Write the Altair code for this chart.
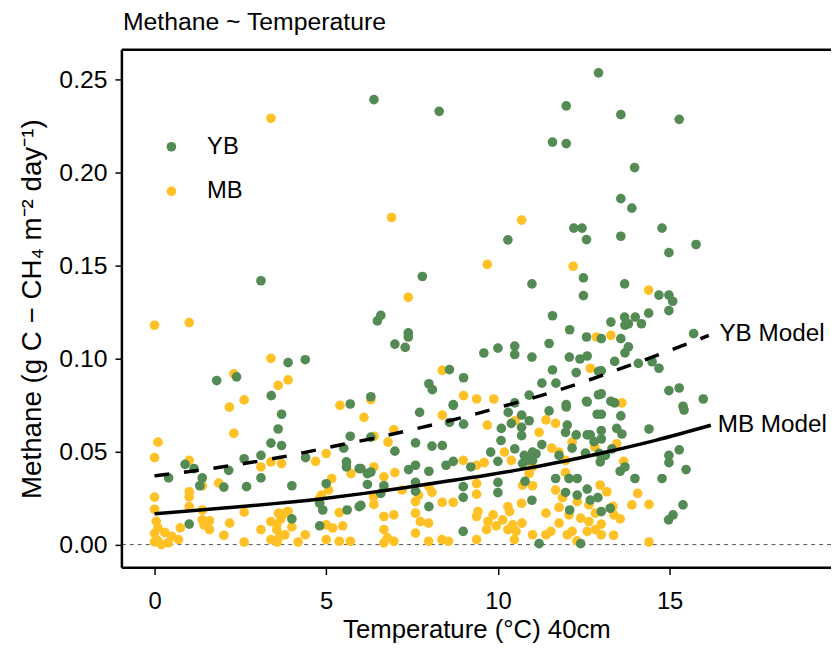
import altair as alt
import pandas as pd

# ---------------- data ----------------
mb_x = [3.39, 6.90, 10.69, 0.0, 1.01, 3.39, 2.31, 3.60, 3.89, 2.61, 2.18, 5.40, 9.69, 12.19, 7.39,
        12.87, 12.69, 8.38, 9.0, 9.38, 9.88, 6.30, 14.39, 13.29, 13.61,
        2.31, 0.10, 0.0, 3.39, 3.70, 1.01, 3.10, 4.69, 5.0, 5.72, 5.16, 5.07, 4.86, 1.87, 1.01, 1.01,
        1.01, 1.39, 0.0, 0.0, 1.39, 1.39, 1.6, 1.6, 1.44, 2.61, 2.19, 2.02, 0.70,
        0.05, 0.1, 0.3, 0.5, 0.1, 0.4, 0.75, 0.0, 0.2, 0.0,
        2.61, 3.10, 3.39, 3.39, 3.61, 3.68, 3.56, 3.56, 3.80, 3.65, 3.80, 3.89, 4.0, 4.18, 4.39, 3.57,
        4.81, 5.0, 5.19, 5.0, 5.38, 5.70, 5.48, 5.38,
        6.10, 8.38, 9.69, 10.5, 11.20, 11.4, 11.68, 6.97, 6.80, 6.39, 11.57, 11.78, 12.16, 10.19,
        10.39, 11.97, 12.82, 6.39, 6.68, 7.0, 6.38, 6.39, 7.21, 7.69, 7.6, 7.99, 8.08, 8.99, 9.38,
        9.6, 8.38, 8.70, 9.38, 9.38, 10.72, 11.01, 10.69, 10.29, 10.34,
        9.42, 9.38, 9.71, 9.86, 9.67, 9.95, 10.14, 10.29, 10.43, 10.53, 10.70, 10.48,
        11.01, 11.40, 11.54, 11.40, 11.78, 11.78, 12.07, 12.02, 12.16, 11.68, 11.88, 12.31, 12.65,
        12.41, 12.65, 12.84, 12.6, 12.3, 12.84, 10.91, 11.0, 11.97, 7.60, 7.98, 8.37, 8.56, 9.38,
        6.68, 6.97, 6.68, 6.78, 6.68, 6.97, 7.60, 7.74, 7.98,
        13.46, 13.66, 12.98, 13.17, 14.07, 13.9, 14.4, 13.35, 13.38, 13.56, 13.01, 13.01, 13.37, 14.40]
mb_y = [0.229, 0.1757, 0.1743, 0.1178, 0.1192, 0.100, 0.0917, 0.0855, 0.0885, 0.0777, 0.0738, 0.0748,
        0.1505, 0.1495, 0.1328, 0.1115, 0.0947, 0.0936, 0.080, 0.0782, 0.0782, 0.0779, 0.1367, 0.1124,
        0.0761,
        0.0598, 0.055, 0.0467, 0.0444, 0.0435, 0.0452, 0.0417, 0.0447, 0.0489, 0.0381, 0.0355, 0.0293,
        0.0266, 0.033, 0.0284, 0.0257, 0.0204, 0.0316, 0.0255, 0.019, 0.0186, 0.0133, 0.0128, 0.008,
        0.0106, 0.0174, 0.0115, 0.005, 0.0027,
        0.0125, 0.009, 0.0065, 0.0045, 0.002, 0.001, 0.009, 0.006, 0.0, 0.0015,
        0.0014, 0.008, 0.0027, 0.0124, 0.0169, 0.0138, 0.0106, 0.008, 0.0053, 0.0045, 0.0169, 0.0178,
        0.0095, 0.0014, 0.0053, 0.0014,
        0.0248, 0.0106, 0.0089, 0.0027, 0.0018, 0.0018, 0.0101, 0.0172,
        0.0683, 0.0695, 0.0642, 0.0665, 0.0603, 0.067, 0.0651, 0.0617, 0.055, 0.0582, 0.0518, 0.0497,
        0.055, 0.0497, 0.0452, 0.0452, 0.0525, 0.0417, 0.0364, 0.0387, 0.0257, 0.0216, 0.0293, 0.0266,
        0.0231, 0.0311, 0.028, 0.0452, 0.0426, 0.044, 0.0227, 0.0227, 0.0328, 0.0271, 0.0319, 0.0316,
        0.0222, 0.0204, 0.0178,
        0.0178, 0.0151, 0.0124, 0.016, 0.008, 0.0101, 0.0133, 0.008, 0.0106, 0.0071, 0.0115, 0.0027,
        0.0053, 0.0053, 0.0071, 0.0169, 0.020, 0.0115, 0.016, 0.0053, 0.0071, 0.0293, 0.0252, 0.0231,
        0.0213, 0.0142, 0.0124, 0.008, 0.0071, 0.002, 0.0169, 0.0381, 0.0417, 0.0387, 0.0062, 0.0018,
        0.0027, 0.0018, 0.0027,
        0.0151, 0.016, 0.008, 0.0036, 0.0009, 0.0018, 0.0169, 0.0124, 0.0115,
        0.0541, 0.0447, 0.0319, 0.0284, 0.0275, 0.0213, 0.0216, 0.0205, 0.016, 0.0138, 0.011, 0.0053,
        0.005, 0.0014]

yb_x = [6.39, 8.29, 11.99, 11.59, 11.99, 12.93, 12.21, 12.45, 13.58, 15.28, 13.98, 13.58, 13.90, 14.78,
        3.10, 3.89, 4.39, 2.39, 1.81, 3.40, 5.70,
        12.58, 10.29, 7.80, 10.99, 12.49, 12.49, 6.59, 6.49, 11.59, 12.09, 7.39, 7.39, 7.0, 7.30, 12.58,
        11.49, 9.59, 10.0, 10.49, 10.49, 10.99, 12.08, 12.39, 12.6, 11.59, 12.28, 12.93, 8.59, 9.0,
        7.99, 8.09, 11.28, 11.69, 12.93, 10.91, 6.30, 10.49, 8.70, 11.99, 12.58,
        13.58, 15.77, 14.98, 13.69, 14.69, 14.98, 15.09, 14.98, 14.39, 13.69, 14.0, 13.29, 13.7, 13.8,
        14.18, 15.7, 13.01, 13.58, 13.8, 13.7, 13.4, 14.09, 14.49, 14.69, 13.01, 14.98, 15.28, 15.98,
        13.01, 13.29, 13.4, 15.39,
        3.70, 3.60, 3.39, 3.70, 5.70, 2.61, 3.10, 0.89, 1.15, 1.39, 1.32, 2.16, 2.02, 3.10, 4.40, 5.51,
        5.59, 5.59, 5.96, 0.41, 2.68, 4.0, 5.0, 1.01, 4.0, 4.81, 4.9, 4.81, 5.61, 5.96,
        7.72, 8.70, 8.59, 9.0, 10.30, 10.10, 10.39, 10.69, 10.91, 10.69, 10.69, 11.49, 11.99, 12.02,
        11.97, 12.28, 12.6, 12.69, 12.89, 12.6, 6.30, 7.60, 7.0, 8.08, 8.38, 10.09, 10.49, 11.28, 12.16,
        9.79, 10.0, 10.77, 11.01, 11.11, 10.87, 10.72, 11.01, 11.78, 12.55, 12.8, 6.2, 6.3, 6.01, 6.68,
        6.59, 6.2, 6.01, 7.40, 7.6, 7.60, 7.60, 7.99, 7.99, 8.49, 8.70, 9.21, 8.99, 8.99, 10.0, 10.0,
        10.79, 10.99, 11.2, 11.68, 12.07, 12.31, 11.97, 12.31, 12.6, 12.09, 12.41, 12.91, 12.69, 12.95,
        8.99,
        13.01, 13.58, 15.42, 13.01, 13.01, 13.46, 13.61, 14.40, 13.32, 13.13, 12.98, 13.7, 13.56, 13.99,
        14.98, 14.98, 15.28, 14.78, 15.48, 13.27, 13.01, 15.39, 15.1, 14.97]
yb_y = [0.239, 0.2327, 0.2356, 0.2162, 0.2154, 0.2534, 0.170, 0.170, 0.2309, 0.2284, 0.2025, 0.1858,
        0.1807, 0.170,
        0.1417, 0.0977, 0.0993, 0.0901, 0.0881, 0.080, 0.0755,
        0.1638, 0.1637, 0.144, 0.140, 0.1433, 0.1337, 0.1231, 0.1202, 0.1229, 0.1154, 0.1137, 0.1115,
        0.1077, 0.1059, 0.1115, 0.108, 0.1029, 0.1055, 0.1066, 0.1021, 0.1007, 0.1007, 0.0997, 0.1013,
        0.0938, 0.0924, 0.093, 0.094, 0.0896, 0.0864, 0.0832, 0.0867, 0.0867, 0.0805, 0.0803, 0.0794,
        0.0761, 0.0752, 0.0752, 0.077,
        0.1656, 0.1612, 0.1568, 0.140, 0.134, 0.134, 0.1307, 0.1257, 0.1243, 0.1222, 0.1222, 0.1195,
        0.1178, 0.1186, 0.1186, 0.1133, 0.1106, 0.1106, 0.1062, 0.103, 0.0984, 0.0973, 0.0982, 0.0947,
        0.0933, 0.0827, 0.0841, 0.0782, 0.081, 0.077, 0.0761, 0.0743,
        0.070, 0.0621, 0.0545, 0.0532, 0.0582, 0.0461, 0.0479, 0.0431, 0.0408, 0.0358, 0.0316, 0.0399,
        0.0309, 0.0358, 0.0467, 0.0518, 0.0444, 0.0417, 0.0408, 0.0358, 0.0311, 0.0316, 0.0327, 0.011,
        0.0138, 0.0222, 0.0186, 0.0101, 0.0186, 0.0204,
        0.071, 0.0748, 0.0656, 0.0647, 0.071, 0.0624, 0.0651, 0.0695, 0.0665, 0.063, 0.0585, 0.0718,
        0.0739, 0.0642, 0.0603, 0.0589, 0.0589, 0.0589, 0.070, 0.0766, 0.0577, 0.0546, 0.0502, 0.0529,
        0.0532, 0.0559, 0.0514, 0.0537, 0.0518, 0.0497, 0.0447, 0.0479, 0.0497, 0.0488, 0.0452, 0.0435,
        0.0452, 0.0479, 0.0491, 0.0553, 0.0381, 0.039, 0.0408, 0.0316, 0.0275, 0.0323, 0.0211, 0.0403,
        0.0426, 0.0334, 0.0287, 0.0394, 0.0204, 0.0426, 0.0447, 0.0417, 0.0311, 0.0254, 0.0334, 0.0279,
        0.034, 0.0238, 0.0005, 0.0355, 0.0355, 0.0355, 0.028, 0.0266, 0.0298, 0.0186, 0.0005, 0.0252,
        0.0239, 0.049, 0.0071,
        0.070, 0.0691, 0.0723, 0.0612, 0.0567, 0.0624, 0.0594, 0.0621, 0.0514, 0.0479, 0.0444, 0.0417,
        0.0394, 0.0355, 0.0479, 0.044, 0.0509, 0.0355, 0.0403, 0.0195, 0.0177, 0.0213, 0.016, 0.0133]

# model curves
ybm_x = [0.0, 2.0, 3.67, 5.43, 6.43, 7.37, 8.25, 9.12, 10.0, 10.88, 11.72, 12.59, 13.32, 14.24, 15.08, 15.96, 16.14]
ybm_y = [0.0369, 0.0418, 0.0469, 0.0536, 0.0573, 0.0612, 0.065, 0.069, 0.0735, 0.0780, 0.0827, 0.0880, 0.0928, 0.0990, 0.1048, 0.1110, 0.1124]
mbm_x = [0.0, 2.02, 3.48, 4.94, 6.11, 7.28, 8.45, 9.62, 10.8, 11.96, 13.13, 14.59, 16.2]
mbm_y = [0.0165, 0.0196, 0.022, 0.0248, 0.0275, 0.0305, 0.0339, 0.0371, 0.0408, 0.0449, 0.0496, 0.056, 0.0641]

model_labels = ["YB Model", "MB Model"]
model_label_x = [16.45, 16.4]
model_label_y = [0.1131, 0.0642]

title_text = "Methane ~ Temperature"
sites = ["YB", "MB"]
site_colors = ["#548B54", "#FFC125"]
x_ticks = [0, 5, 10, 15]
y_ticks = [0.0, 0.05, 0.10, 0.15, 0.20, 0.25]

# ---------------- chart ----------------
W, H = 716, 523
FONT = "Liberation Sans"
xs = alt.Scale(domain=[-0.95, 19.7], nice=False, zero=False)
ys = alt.Scale(domain=[-0.0124, 0.2658], nice=False, zero=False)

x_axis = alt.Axis(values=x_ticks, title="Temperature (°C) 40cm", grid=False, domain=False,
                  tickSize=7, tickWidth=1.5, tickColor="black", labelFontSize=24, labelFont=FONT,
                  labelColor="black", labelPadding=15, titleFontSize=26, titleFont=FONT,
                  titleFontWeight="normal", titleColor="black", titleBaseline="alphabetic",
                  titleY=70)
y_axis = alt.Axis(values=y_ticks, format=".2f", title="Methane (g C − CH₄ m⁻² day⁻¹)",
                  grid=False, domain=False, tickSize=7, tickWidth=1.5, tickColor="black",
                  labelFontSize=25, labelFont=FONT, labelColor="black", labelPadding=8,
                  titleFontSize=28, titleFont=FONT, titleFontWeight="normal", titleColor="black",
                  titleBaseline="middle", titleX=-90)


def xenc():
    return alt.X("temp:Q", scale=xs, axis=x_axis)


def yenc():
    return alt.Y("methane:Q", scale=ys, axis=y_axis)


pts = pd.DataFrame({
    "temp": mb_x + yb_x,
    "methane": mb_y + yb_y,
    "site": ["MB"] * len(mb_x) + ["YB"] * len(yb_x),
})

points = alt.Chart(pts).mark_circle(size=95, opacity=1).encode(
    x=xenc(), y=yenc(),
    color=alt.Color("site:N", scale=alt.Scale(domain=sites, range=site_colors),
                    legend=alt.Legend(title=None, orient="none", legendX=38, legendY=86,
                                      direction="vertical", labelFontSize=24, labelFont=FONT,
                                      labelColor="black", symbolSize=95, symbolType="circle",
                                      symbolStrokeWidth=0, symbolOpacity=1, rowPadding=21,
                                      labelOffset=24, padding=0)),
)

zero = alt.Chart(pd.DataFrame({"methane": [0.0]})).mark_rule(
    color="#555555", strokeWidth=1, strokeDash=[4, 4]).encode(y=yenc())

yb_line = alt.Chart(pd.DataFrame({"temp": ybm_x, "methane": ybm_y})).mark_line(
    color="black", strokeWidth=3.5, strokeDash=[15, 15], interpolate="monotone").encode(
    x=xenc(), y=yenc())
mb_line = alt.Chart(pd.DataFrame({"temp": mbm_x, "methane": mbm_y})).mark_line(
    color="black", strokeWidth=3.5, interpolate="monotone").encode(x=xenc(), y=yenc())

labels = alt.Chart(pd.DataFrame({"temp": model_label_x, "methane": model_label_y,
                                 "label": model_labels})).mark_text(
    align="left", baseline="middle", fontSize=24.5, font=FONT, color="black").encode(
    x=xenc(), y=yenc(), text="label:N")

one = pd.DataFrame({"a": [0]})
title = alt.Chart(one).mark_text(align="left", baseline="alphabetic", fontSize=25, font=FONT,
                                 color="black").encode(
    x=alt.value(1), y=alt.value(-20), text=alt.value(title_text))
frame_top = alt.Chart(one).mark_rule(color="black", strokeWidth=2.5).encode(
    x=alt.value(0), x2=alt.value(W), y=alt.value(0))
frame_bottom = alt.Chart(one).mark_rule(color="black", strokeWidth=2.5).encode(
    x=alt.value(0), x2=alt.value(W), y=alt.value(H))
frame_left = alt.Chart(one).mark_rule(color="black", strokeWidth=2.5).encode(
    x=alt.value(0), y=alt.value(0), y2=alt.value(H))

chart = alt.layer(zero, points, yb_line, mb_line, labels, title,
                  frame_top, frame_bottom, frame_left).properties(
    width=W, height=H,
    autosize=alt.AutoSizeParams(type="none"),
    padding={"left": 115, "top": 39, "right": 0, "bottom": 80},
).configure_view(stroke=None).configure(background="white")

chart.save("out.html", embed_options={"renderer": "svg", "actions": False})
